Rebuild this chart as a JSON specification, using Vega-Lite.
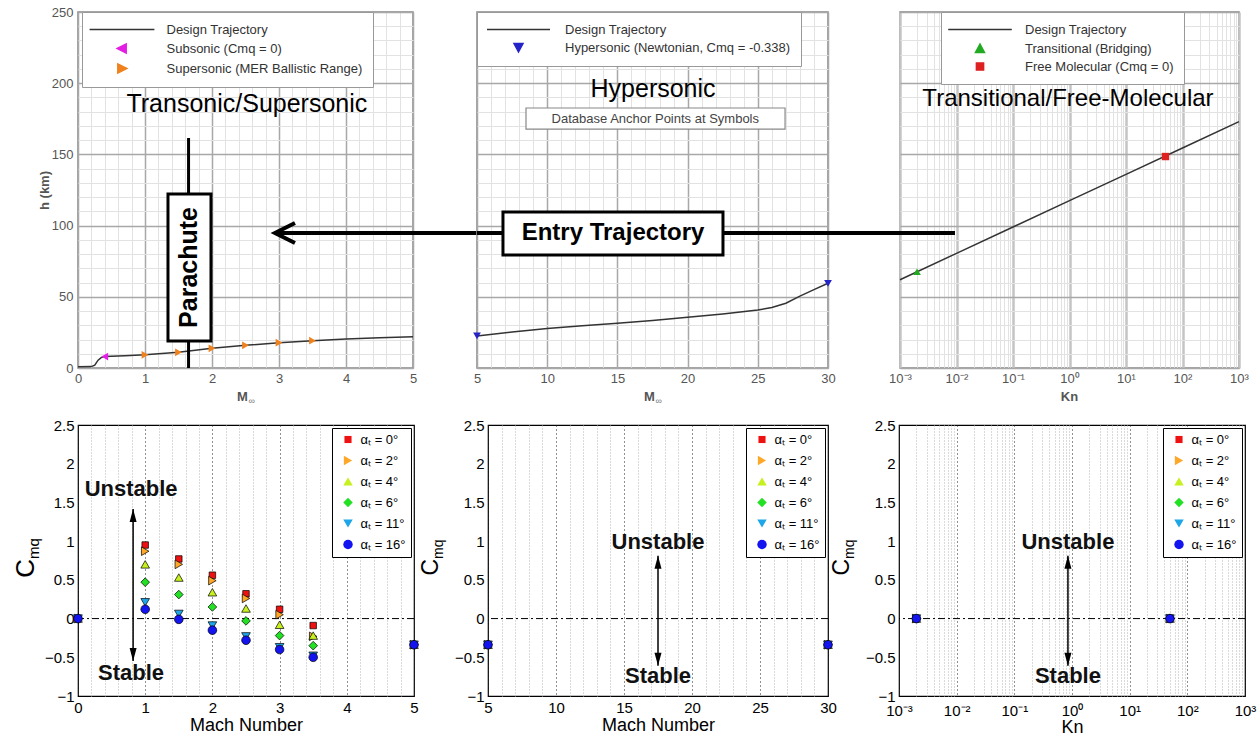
{
"$schema": "https://vega.github.io/schema/vega-lite/v6.json",
"padding": {"left": 12, "top": 5, "right": 5, "bottom": 5},
"background": "white",
"config": {
  "font": "Liberation Sans",
  "view": {"stroke": null},
  "axis": {"labelFont": "Liberation Sans", "titleFont": "Liberation Sans", "domain": false, "ticks": false, "labelOverlap": false, "labelFlush": false, "tickCount": 1000}
},
"datasets": {
  "traj1": [{"M":0,"h":0.8},{"M":0.2,"h":1},{"M":0.25,"h":2},{"M":0.3,"h":5.5},{"M":0.35,"h":7.5},{"M":0.4,"h":8},{"M":0.7,"h":8.6},{"M":1,"h":9.3},{"M":1.5,"h":11},{"M":2,"h":13.8},{"M":2.5,"h":15.9},{"M":3,"h":17.8},{"M":3.5,"h":19.2},{"M":4,"h":20.4},{"M":4.5,"h":21.3},{"M":5,"h":22}],
  "mk1": [{"M":0.4,"h":8,"series":"Subsonic (Cmq = 0)"},{"M":1,"h":9.3,"series":"Supersonic (MER Ballistic Range)"},{"M":1.5,"h":11,"series":"Supersonic (MER Ballistic Range)"},{"M":2,"h":13.8,"series":"Supersonic (MER Ballistic Range)"},{"M":2.5,"h":15.9,"series":"Supersonic (MER Ballistic Range)"},{"M":3,"h":17.8,"series":"Supersonic (MER Ballistic Range)"},{"M":3.5,"h":19.2,"series":"Supersonic (MER Ballistic Range)"}],
  "traj2": [{"M":5,"h":22.5},{"M":7.5,"h":25.3},{"M":10,"h":27.8},{"M":12.5,"h":29.7},{"M":15,"h":31.4},{"M":17.5,"h":33.4},{"M":20,"h":35.6},{"M":22.5,"h":37.9},{"M":25,"h":40.7},{"M":26,"h":42.5},{"M":27,"h":45.5},{"M":28,"h":50.5},{"M":29,"h":55},{"M":30,"h":59.5}],
  "mk2": [{"M":5,"h":22.5,"series":"Hypersonic (Newtonian, Cmq = -0.338)"},{"M":30,"h":59.5,"series":"Hypersonic (Newtonian, Cmq = -0.338)"}],
  "traj3": [{"Kn":0.001,"h":62},{"Kn":0.01,"h":80.5},{"Kn":0.1,"h":99},{"Kn":1,"h":117.5},{"Kn":10,"h":136},{"Kn":100,"h":154.5},{"Kn":1000,"h":173}],
  "mk3": [{"Kn":0.002,"h":67.6,"series":"Transitional (Bridging)"},{"Kn":50,"h":148.5,"series":"Free Molecular (Cmq = 0)"}],
  "cmq4": [
    {"M":0,"cmq":0,"alpha":"αₜ = 0°"},{"M":0,"cmq":0,"alpha":"αₜ = 2°"},{"M":0,"cmq":0,"alpha":"αₜ = 4°"},{"M":0,"cmq":0,"alpha":"αₜ = 6°"},{"M":0,"cmq":0,"alpha":"αₜ = 11°"},{"M":0,"cmq":0,"alpha":"αₜ = 16°"},
    {"M":1,"cmq":0.95,"alpha":"αₜ = 0°"},{"M":1,"cmq":0.87,"alpha":"αₜ = 2°"},{"M":1,"cmq":0.7,"alpha":"αₜ = 4°"},{"M":1,"cmq":0.47,"alpha":"αₜ = 6°"},{"M":1,"cmq":0.21,"alpha":"αₜ = 11°"},{"M":1,"cmq":0.12,"alpha":"αₜ = 16°"},
    {"M":1.5,"cmq":0.77,"alpha":"αₜ = 0°"},{"M":1.5,"cmq":0.7,"alpha":"αₜ = 2°"},{"M":1.5,"cmq":0.53,"alpha":"αₜ = 4°"},{"M":1.5,"cmq":0.31,"alpha":"αₜ = 6°"},{"M":1.5,"cmq":0.06,"alpha":"αₜ = 11°"},{"M":1.5,"cmq":-0.01,"alpha":"αₜ = 16°"},
    {"M":2,"cmq":0.56,"alpha":"αₜ = 0°"},{"M":2,"cmq":0.49,"alpha":"αₜ = 2°"},{"M":2,"cmq":0.34,"alpha":"αₜ = 4°"},{"M":2,"cmq":0.15,"alpha":"αₜ = 6°"},{"M":2,"cmq":-0.09,"alpha":"αₜ = 11°"},{"M":2,"cmq":-0.15,"alpha":"αₜ = 16°"},
    {"M":2.5,"cmq":0.32,"alpha":"αₜ = 0°"},{"M":2.5,"cmq":0.26,"alpha":"αₜ = 2°"},{"M":2.5,"cmq":0.13,"alpha":"αₜ = 4°"},{"M":2.5,"cmq":-0.03,"alpha":"αₜ = 6°"},{"M":2.5,"cmq":-0.23,"alpha":"αₜ = 11°"},{"M":2.5,"cmq":-0.28,"alpha":"αₜ = 16°"},
    {"M":3,"cmq":0.12,"alpha":"αₜ = 0°"},{"M":3,"cmq":0.05,"alpha":"αₜ = 2°"},{"M":3,"cmq":-0.08,"alpha":"αₜ = 4°"},{"M":3,"cmq":-0.22,"alpha":"αₜ = 6°"},{"M":3,"cmq":-0.37,"alpha":"αₜ = 11°"},{"M":3,"cmq":-0.4,"alpha":"αₜ = 16°"},
    {"M":3.5,"cmq":-0.09,"alpha":"αₜ = 0°"},{"M":3.5,"cmq":-0.23,"alpha":"αₜ = 2°"},{"M":3.5,"cmq":-0.22,"alpha":"αₜ = 4°"},{"M":3.5,"cmq":-0.35,"alpha":"αₜ = 6°"},{"M":3.5,"cmq":-0.48,"alpha":"αₜ = 11°"},{"M":3.5,"cmq":-0.5,"alpha":"αₜ = 16°"},
    {"M":5,"cmq":-0.338,"alpha":"αₜ = 0°"},{"M":5,"cmq":-0.338,"alpha":"αₜ = 2°"},{"M":5,"cmq":-0.338,"alpha":"αₜ = 4°"},{"M":5,"cmq":-0.338,"alpha":"αₜ = 6°"},{"M":5,"cmq":-0.338,"alpha":"αₜ = 11°"},{"M":5,"cmq":-0.338,"alpha":"αₜ = 16°"}
  ],
  "cmq5": [
    {"M":5,"cmq":-0.338,"alpha":"αₜ = 0°"},{"M":5,"cmq":-0.338,"alpha":"αₜ = 2°"},{"M":5,"cmq":-0.338,"alpha":"αₜ = 4°"},{"M":5,"cmq":-0.338,"alpha":"αₜ = 6°"},{"M":5,"cmq":-0.338,"alpha":"αₜ = 11°"},{"M":5,"cmq":-0.338,"alpha":"αₜ = 16°"},
    {"M":30,"cmq":-0.338,"alpha":"αₜ = 0°"},{"M":30,"cmq":-0.338,"alpha":"αₜ = 2°"},{"M":30,"cmq":-0.338,"alpha":"αₜ = 4°"},{"M":30,"cmq":-0.338,"alpha":"αₜ = 6°"},{"M":30,"cmq":-0.338,"alpha":"αₜ = 11°"},{"M":30,"cmq":-0.338,"alpha":"αₜ = 16°"}
  ],
  "cmq6": [
    {"Kn":0.002,"cmq":0,"alpha":"αₜ = 0°"},{"Kn":0.002,"cmq":0,"alpha":"αₜ = 2°"},{"Kn":0.002,"cmq":0,"alpha":"αₜ = 4°"},{"Kn":0.002,"cmq":0,"alpha":"αₜ = 6°"},{"Kn":0.002,"cmq":0,"alpha":"αₜ = 11°"},{"Kn":0.002,"cmq":0,"alpha":"αₜ = 16°"},
    {"Kn":50,"cmq":0,"alpha":"αₜ = 0°"},{"Kn":50,"cmq":0,"alpha":"αₜ = 2°"},{"Kn":50,"cmq":0,"alpha":"αₜ = 4°"},{"Kn":50,"cmq":0,"alpha":"αₜ = 6°"},{"Kn":50,"cmq":0,"alpha":"αₜ = 11°"},{"Kn":50,"cmq":0,"alpha":"αₜ = 16°"}
  ]
},
"spacing": 10,
"resolve": {"scale": {"x": "independent", "y": "independent", "color": "independent", "shape": "independent"}, "axis": {"x": "independent", "y": "independent"}, "legend": {"color": "independent", "shape": "independent"}},
"vconcat": [
{
  "spacing": 64,
  "bounds": "flush",
  "resolve": {"scale": {"x": "independent", "y": "independent", "color": "independent", "shape": "independent"}, "axis": {"x": "independent", "y": "independent"}, "legend": {"color": "independent", "shape": "independent"}},
  "hconcat": [
  {
    "width": 335, "height": 356,
    "view": {"stroke": "#888", "strokeWidth": 1.5},
    "layer": [
      {"data": {"name": "traj1"}, "mark": {"type": "line", "color": "#333", "strokeWidth": 1.5},
       "encoding": {
        "x": {"field": "M", "type": "quantitative", "scale": {"domain": [0, 5], "nice": false, "zero": false},
              "axis": {"values": [0,0.2,0.4,0.6,0.8,1,1.2,1.4,1.6,1.8,2,2.2,2.4,2.6,2.8,3,3.2,3.4,3.6,3.8,4,4.2,4.4,4.6,4.8,5], "tickCount": 1000, "format": "~g",
                       "labelExpr": "abs(datum.value - round(datum.value)) < 0.001 ? datum.label : ''", "title": null,
                       "labelColor": "#555", "labelFontSize": 13, "labelPadding": 4,
                       "gridColor": {"condition": {"test": "abs(datum.value - round(datum.value)) < 0.001", "value": "#a8a8a8"}, "value": "#e2e2e2"},
                       "gridWidth": {"condition": {"test": "abs(datum.value - round(datum.value)) < 0.001", "value": 1.5}, "value": 1}}},
        "y": {"field": "h", "type": "quantitative", "scale": {"domain": [0, 250], "nice": false, "zero": false},
              "axis": {"values": [0,10,20,30,40,50,60,70,80,90,100,110,120,130,140,150,160,170,180,190,200,210,220,230,240,250], "tickCount": 1000, "format": "d",
                       "labelExpr": "datum.value % 50 === 0 ? datum.label : ''", "title": "h (km)", "titleColor": "#555", "titleFontSize": 13, "titleFontWeight": "bold", "titlePadding": 0,
                       "labelColor": "#555", "labelFontSize": 13, "labelPadding": 5,
                       "gridColor": {"condition": {"test": "datum.value % 50 === 0", "value": "#a8a8a8"}, "value": "#e2e2e2"},
                       "gridWidth": {"condition": {"test": "datum.value % 50 === 0", "value": 1.5}, "value": 1}}}
       }},
      {"data": {"name": "mk1"}, "transform": [{"filter": "datum.series === 'Subsonic (Cmq = 0)'"}],
       "mark": {"type": "point", "filled": true, "opacity": 1, "size": 60, "shape": "triangle-left"},
       "encoding": {
        "x": {"field": "M", "type": "quantitative"},
        "y": {"field": "h", "type": "quantitative"},
        "color": {"field": "series", "type": "nominal",
                  "scale": {"domain": ["Design Trajectory", "Subsonic (Cmq = 0)", "Supersonic (MER Ballistic Range)"], "range": ["#333333", "#e41ee4", "#f0821e"]},
                  "legend": {"title": null, "orient": "none", "legendX": 4, "legendY": 0, "fillColor": "white", "strokeColor": "#999", "padding": 10.5, "rowPadding": 4,
                             "symbolSize": 144, "symbolStrokeWidth": 1.5, "symbolOffset": 22.5, "labelOffset": 37.5, "labelFontSize": 13, "labelColor": "#333", "labelFont": "Liberation Sans", "labelLimit": 400, "symbolOpacity": 1,
                             "encode": {"symbols": {"update": {
                               "shape": [{"test": "datum.value === 'Design Trajectory'", "value": "M-5.4,0H5.4"}, {"test": "datum.value === 'Subsonic (Cmq = 0)'", "value": "M-0.8,0L0.7,-0.75L0.7,0.75Z"}, {"value": "M0.8,0L-0.7,-0.75L-0.7,0.75Z"}],
                               "fill": [{"test": "datum.value === 'Design Trajectory'", "value": "transparent"}, {"test": "datum.value === 'Subsonic (Cmq = 0)'", "value": "#e41ee4"}, {"value": "#f0821e"}],
                               "stroke": [{"test": "datum.value === 'Design Trajectory'", "value": "#333"}, {"test": "datum.value === 'Subsonic (Cmq = 0)'", "value": "#e41ee4"}, {"value": "#f0821e"}]
                             }}}}}
       }},
      {"data": {"name": "mk1"}, "transform": [{"filter": "datum.series !== 'Subsonic (Cmq = 0)'"}],
       "mark": {"type": "point", "filled": true, "opacity": 1, "size": 60, "shape": "triangle-right"},
       "encoding": {
        "x": {"field": "M", "type": "quantitative"},
        "y": {"field": "h", "type": "quantitative"},
        "color": {"field": "series", "type": "nominal",
                  "legend": {"title": null, "orient": "none", "legendX": 4, "legendY": 0, "fillColor": "white", "strokeColor": "#999", "padding": 10.5, "rowPadding": 4,
                             "symbolSize": 144, "symbolStrokeWidth": 1.5, "symbolOffset": 22.5, "labelOffset": 37.5, "labelFontSize": 13, "labelColor": "#333", "labelFont": "Liberation Sans", "labelLimit": 400, "symbolOpacity": 1,
                             "encode": {"symbols": {"update": {
                               "shape": [{"test": "datum.value === 'Design Trajectory'", "value": "M-5.4,0H5.4"}, {"test": "datum.value === 'Subsonic (Cmq = 0)'", "value": "M-0.8,0L0.7,-0.75L0.7,0.75Z"}, {"value": "M0.8,0L-0.7,-0.75L-0.7,0.75Z"}],
                               "fill": [{"test": "datum.value === 'Design Trajectory'", "value": "transparent"}, {"test": "datum.value === 'Subsonic (Cmq = 0)'", "value": "#e41ee4"}, {"value": "#f0821e"}],
                               "stroke": [{"test": "datum.value === 'Design Trajectory'", "value": "#333"}, {"test": "datum.value === 'Subsonic (Cmq = 0)'", "value": "#e41ee4"}, {"value": "#f0821e"}]
                             }}}}}
       }},
      {"data": {"values": [{"M": 1.65, "h1": 0, "h2": 161.5}]}, "mark": {"type": "rule", "color": "black", "strokeWidth": 3},
       "encoding": {"x": {"field": "M", "type": "quantitative"}, "y": {"field": "h1", "type": "quantitative"}, "y2": {"field": "h2"}}},
      {"data": {"values": [{"M1": 1.343, "M2": 1.985, "h1": 19, "h2": 122.2}]}, "mark": {"type": "rect", "fill": "white", "stroke": "black", "strokeWidth": 3},
       "encoding": {"x": {"field": "M1", "type": "quantitative"}, "x2": {"field": "M2"}, "y": {"field": "h1", "type": "quantitative"}, "y2": {"field": "h2"}}},
      {"data": {"values": [{"M": 1.664, "h": 70.6, "label": "Parachute"}]}, "mark": {"type": "text", "angle": 270, "fontSize": 25, "fontWeight": "bold", "align": "center", "baseline": "middle", "color": "black"},
       "encoding": {"x": {"field": "M", "type": "quantitative"}, "y": {"field": "h", "type": "quantitative"}, "text": {"field": "label"}}},
      {"data": {"values": [{"M": 2.52, "h": 185.4, "label": "Transonic/Supersonic"}]}, "mark": {"type": "text", "fontSize": 25, "align": "center", "baseline": "middle", "color": "black"},
       "encoding": {"x": {"field": "M", "type": "quantitative"}, "y": {"field": "h", "type": "quantitative"}, "text": {"field": "label"}}},
      {"data": {"values": [{"M1": 2.94, "M2": 5.96, "h": 94.8}]}, "mark": {"type": "rule", "color": "black", "strokeWidth": 4},
       "encoding": {"x": {"field": "M1", "type": "quantitative"}, "x2": {"field": "M2"}, "y": {"field": "h", "type": "quantitative"}}},
      {"data": {"values": [{"M": 2.94, "h": 94.8}]}, "mark": {"type": "point", "shape": "M2,-1L0,0L2,1", "size": 400, "filled": false, "stroke": "black", "strokeWidth": 4, "opacity": 1},
       "encoding": {"x": {"field": "M", "type": "quantitative"}, "y": {"field": "h", "type": "quantitative"}}},
      {"data": {"values": [{"M": 2.5, "h": -20.4, "label": "M"}]}, "mark": {"type": "text", "fontSize": 13, "fontWeight": "bold", "align": "center", "baseline": "middle", "color": "#555", "dx": -3},
       "encoding": {"x": {"field": "M", "type": "quantitative"}, "y": {"field": "h", "type": "quantitative"}, "text": {"field": "label"}}},
      {"data": {"values": [{"M": 2.5, "h": -20.4, "label": "∞"}]}, "mark": {"type": "text", "fontSize": 9, "align": "left", "baseline": "middle", "color": "#777", "dx": 3, "dy": 4},
       "encoding": {"x": {"field": "M", "type": "quantitative"}, "y": {"field": "h", "type": "quantitative"}, "text": {"field": "label"}}}
    ]
  },
  {
    "spacing": 72,
    "bounds": "flush",
    "resolve": {"scale": {"x": "independent", "y": "independent", "color": "independent", "shape": "independent"}, "axis": {"x": "independent", "y": "independent"}, "legend": {"color": "independent", "shape": "independent"}},
    "hconcat": [
    {
      "width": 351, "height": 356,
      "view": {"stroke": "#888", "strokeWidth": 1.5},
      "layer": [
        {"data": {"name": "traj2"}, "mark": {"type": "line", "color": "#333", "strokeWidth": 1.5},
         "encoding": {
          "x": {"field": "M", "type": "quantitative", "scale": {"domain": [5, 30], "nice": false, "zero": false},
                "axis": {"values": [5,6,7,8,9,10,11,12,13,14,15,16,17,18,19,20,21,22,23,24,25,26,27,28,29,30], "tickCount": 1000, "format": "~g",
                         "labelExpr": "datum.value % 5 === 0 ? datum.label : ''", "title": null,
                         "labelColor": "#555", "labelFontSize": 13, "labelPadding": 4,
                         "gridColor": {"condition": {"test": "datum.value % 5 === 0", "value": "#a8a8a8"}, "value": "#e2e2e2"},
                         "gridWidth": {"condition": {"test": "datum.value % 5 === 0", "value": 1.5}, "value": 1}}},
          "y": {"field": "h", "type": "quantitative", "scale": {"domain": [0, 250], "nice": false, "zero": false},
                "axis": {"values": [0,10,20,30,40,50,60,70,80,90,100,110,120,130,140,150,160,170,180,190,200,210,220,230,240,250], "tickCount": 1000,
                         "labels": false, "title": null,
                         "gridColor": {"condition": {"test": "datum.value % 50 === 0", "value": "#a8a8a8"}, "value": "#e2e2e2"},
                         "gridWidth": {"condition": {"test": "datum.value % 50 === 0", "value": 1.5}, "value": 1}}}
         }},
        {"data": {"name": "mk2"}, "mark": {"type": "point", "filled": true, "opacity": 1, "size": 60, "shape": "triangle-down"},
         "encoding": {
          "x": {"field": "M", "type": "quantitative"},
          "y": {"field": "h", "type": "quantitative"},
          "color": {"field": "series", "type": "nominal",
                    "scale": {"domain": ["Design Trajectory", "Hypersonic (Newtonian, Cmq = -0.338)"], "range": ["#333333", "#2323c8"]},
                    "legend": {"title": null, "orient": "none", "legendX": 0, "legendY": 0, "fillColor": "white", "strokeColor": "#999", "padding": 10.5, "rowPadding": 4,
                               "symbolSize": 144, "symbolStrokeWidth": 1.5, "symbolOffset": 24, "labelOffset": 39.5, "labelFontSize": 13, "labelColor": "#333", "labelFont": "Liberation Sans", "labelLimit": 400, "symbolOpacity": 1,
                               "encode": {"symbols": {"update": {
                                 "shape": [{"test": "datum.value === 'Design Trajectory'", "value": "M-5.25,0H5.25"}, {"value": "M0,0.75L0.75,-0.65L-0.75,-0.65Z"}],
                                 "fill": [{"test": "datum.value === 'Design Trajectory'", "value": "transparent"}, {"value": "#2323c8"}],
                                 "stroke": [{"test": "datum.value === 'Design Trajectory'", "value": "#333"}, {"value": "#2323c8"}]
                               }}}}}
         }},
        {"data": {"values": [{"M1": 5, "M2": 30, "h": 94.8}]}, "mark": {"type": "rule", "color": "black", "strokeWidth": 4},
         "encoding": {"x": {"field": "M1", "type": "quantitative"}, "x2": {"field": "M2"}, "y": {"field": "h", "type": "quantitative"}}},
        {"data": {"values": [{"M1": 6.85, "M2": 22.52, "h1": 79.4, "h2": 109.6}]}, "mark": {"type": "rect", "fill": "white", "stroke": "black", "strokeWidth": 3},
         "encoding": {"x": {"field": "M1", "type": "quantitative"}, "x2": {"field": "M2"}, "y": {"field": "h1", "type": "quantitative"}, "y2": {"field": "h2"}}},
        {"data": {"values": [{"M": 14.69, "h": 94.5, "label": "Entry Trajectory"}]}, "mark": {"type": "text", "fontSize": 24, "fontWeight": "bold", "align": "center", "baseline": "middle", "color": "black"},
         "encoding": {"x": {"field": "M", "type": "quantitative"}, "y": {"field": "h", "type": "quantitative"}, "text": {"field": "label"}}},
        {"data": {"values": [{"M": 17.54, "h": 195.9, "label": "Hypersonic"}]}, "mark": {"type": "text", "fontSize": 25, "align": "center", "baseline": "middle", "color": "black"},
         "encoding": {"x": {"field": "M", "type": "quantitative"}, "y": {"field": "h", "type": "quantitative"}, "text": {"field": "label"}}},
        {"data": {"values": [{"M1": 8.49, "M2": 26.94, "h1": 167.8, "h2": 182.6}]}, "mark": {"type": "rect", "fill": "white", "stroke": "#888", "strokeWidth": 1.2},
         "encoding": {"x": {"field": "M1", "type": "quantitative"}, "x2": {"field": "M2"}, "y": {"field": "h1", "type": "quantitative"}, "y2": {"field": "h2"}}},
        {"data": {"values": [{"M": 17.7, "h": 175.2, "label": "Database Anchor Points at Symbols"}]}, "mark": {"type": "text", "fontSize": 13, "align": "center", "baseline": "middle", "color": "#444"},
         "encoding": {"x": {"field": "M", "type": "quantitative"}, "y": {"field": "h", "type": "quantitative"}, "text": {"field": "label"}}},
        {"data": {"values": [{"M": 17.5, "h": -20.4, "label": "M"}]}, "mark": {"type": "text", "fontSize": 13, "fontWeight": "bold", "align": "center", "baseline": "middle", "color": "#555", "dx": -3},
         "encoding": {"x": {"field": "M", "type": "quantitative"}, "y": {"field": "h", "type": "quantitative"}, "text": {"field": "label"}}},
        {"data": {"values": [{"M": 17.5, "h": -20.4, "label": "∞"}]}, "mark": {"type": "text", "fontSize": 9, "align": "left", "baseline": "middle", "color": "#777", "dx": 3, "dy": 4},
         "encoding": {"x": {"field": "M", "type": "quantitative"}, "y": {"field": "h", "type": "quantitative"}, "text": {"field": "label"}}}
      ]
    },
    {
      "width": 339, "height": 356,
      "view": {"stroke": "#888", "strokeWidth": 1.5},
      "layer": [
        {"data": {"name": "traj3"}, "mark": {"type": "line", "color": "#333", "strokeWidth": 1.5},
         "encoding": {
          "x": {"field": "Kn", "type": "quantitative", "scale": {"type": "log", "domain": [0.001, 1000], "nice": false},
                "axis": {"values": [0.001,0.002,0.003,0.004,0.005,0.006,0.007,0.008,0.009,0.01,0.02,0.03,0.04,0.05,0.06,0.07,0.08,0.09,0.1,0.2,0.3,0.4,0.5,0.6,0.7,0.8,0.9,1,2,3,4,5,6,7,8,9,10,20,30,40,50,60,70,80,90,100,200,300,400,500,600,700,800,900,1000], "tickCount": 1000,
                         "labelExpr": "abs(log(datum.value)/LN10 - round(log(datum.value)/LN10)) < 0.001 ? '10' + ['⁻³','⁻²','⁻¹','⁰','¹','²','³'][round(log(datum.value)/LN10) + 3] : ''",
                         "title": null, "labelColor": "#555", "labelFontSize": 13, "labelPadding": 4,
                         "gridColor": {"condition": {"test": "abs(log(datum.value)/LN10 - round(log(datum.value)/LN10)) < 0.001", "value": "#c4c4c4"}, "value": "#e2e2e2"},
                         "gridWidth": {"condition": {"test": "abs(log(datum.value)/LN10 - round(log(datum.value)/LN10)) < 0.001", "value": 2.5}, "value": 1}}},
          "y": {"field": "h", "type": "quantitative", "scale": {"domain": [0, 250], "nice": false, "zero": false},
                "axis": {"values": [0,10,20,30,40,50,60,70,80,90,100,110,120,130,140,150,160,170,180,190,200,210,220,230,240,250], "tickCount": 1000,
                         "labels": false, "title": null,
                         "gridColor": {"condition": {"test": "datum.value % 50 === 0", "value": "#a8a8a8"}, "value": "#e2e2e2"},
                         "gridWidth": {"condition": {"test": "datum.value % 50 === 0", "value": 1.5}, "value": 1}}}
         }},
        {"data": {"name": "mk3"}, "transform": [{"filter": "datum.series === 'Transitional (Bridging)'"}],
         "mark": {"type": "point", "filled": true, "opacity": 1, "size": 60, "shape": "triangle-up"},
         "encoding": {
          "x": {"field": "Kn", "type": "quantitative"},
          "y": {"field": "h", "type": "quantitative"},
          "color": {"field": "series", "type": "nominal",
                    "scale": {"domain": ["Design Trajectory", "Transitional (Bridging)", "Free Molecular (Cmq = 0)"], "range": ["#333333", "#22aa22", "#dd2020"]},
                    "legend": {"title": null, "orient": "none", "legendX": 41, "legendY": 0, "fillColor": "white", "strokeColor": "#999", "padding": 10.5, "rowPadding": 4,
                               "symbolSize": 144, "symbolStrokeWidth": 1.5, "symbolOffset": 21.5, "labelOffset": 38, "labelFontSize": 13, "labelColor": "#333", "labelFont": "Liberation Sans", "labelLimit": 400, "symbolOpacity": 1,
                               "encode": {"symbols": {"update": {
                                 "shape": [{"test": "datum.value === 'Design Trajectory'", "value": "M-5.3,0H5.3"}, {"test": "datum.value === 'Transitional (Bridging)'", "value": "M0,-0.75L0.75,0.65L-0.75,0.65Z"}, {"value": "M-0.6,-0.6H0.6V0.6H-0.6Z"}],
                                 "fill": [{"test": "datum.value === 'Design Trajectory'", "value": "transparent"}, {"test": "datum.value === 'Transitional (Bridging)'", "value": "#22aa22"}, {"value": "#dd2020"}],
                                 "stroke": [{"test": "datum.value === 'Design Trajectory'", "value": "#333"}, {"test": "datum.value === 'Transitional (Bridging)'", "value": "#22aa22"}, {"value": "#dd2020"}]
                               }}}}}
         }},
        {"data": {"name": "mk3"}, "transform": [{"filter": "datum.series !== 'Transitional (Bridging)'"}],
         "mark": {"type": "point", "filled": true, "opacity": 1, "size": 55, "shape": "square"},
         "encoding": {
          "x": {"field": "Kn", "type": "quantitative"},
          "y": {"field": "h", "type": "quantitative"},
          "color": {"field": "series", "type": "nominal",
                    "legend": {"title": null, "orient": "none", "legendX": 41, "legendY": 0, "fillColor": "white", "strokeColor": "#999", "padding": 10.5, "rowPadding": 4,
                               "symbolSize": 144, "symbolStrokeWidth": 1.5, "symbolOffset": 21.5, "labelOffset": 38, "labelFontSize": 13, "labelColor": "#333", "labelFont": "Liberation Sans", "labelLimit": 400, "symbolOpacity": 1,
                               "encode": {"symbols": {"update": {
                                 "shape": [{"test": "datum.value === 'Design Trajectory'", "value": "M-5.3,0H5.3"}, {"test": "datum.value === 'Transitional (Bridging)'", "value": "M0,-0.75L0.75,0.65L-0.75,0.65Z"}, {"value": "M-0.6,-0.6H0.6V0.6H-0.6Z"}],
                                 "fill": [{"test": "datum.value === 'Design Trajectory'", "value": "transparent"}, {"test": "datum.value === 'Transitional (Bridging)'", "value": "#22aa22"}, {"value": "#dd2020"}],
                                 "stroke": [{"test": "datum.value === 'Design Trajectory'", "value": "#333"}, {"test": "datum.value === 'Transitional (Bridging)'", "value": "#22aa22"}, {"value": "#dd2020"}]
                               }}}}}
         }},
        {"data": {"values": [{"K1": 0.000053, "K2": 0.0094, "h": 94.8}]}, "mark": {"type": "rule", "color": "black", "strokeWidth": 4},
         "encoding": {"x": {"field": "K1", "type": "quantitative"}, "x2": {"field": "K2"}, "y": {"field": "h", "type": "quantitative"}}},
        {"data": {"values": [{"Kn": 0.94, "h": 188.9, "label": "Transitional/Free-Molecular"}]}, "mark": {"type": "text", "fontSize": 24, "align": "center", "baseline": "middle", "color": "black"},
         "encoding": {"x": {"field": "Kn", "type": "quantitative"}, "y": {"field": "h", "type": "quantitative"}, "text": {"field": "label"}}},
        {"data": {"values": [{"Kn": 1, "h": -20.4, "label": "Kn"}]}, "mark": {"type": "text", "fontSize": 13, "fontWeight": "bold", "align": "center", "baseline": "middle", "color": "#555"},
         "encoding": {"x": {"field": "Kn", "type": "quantitative"}, "y": {"field": "h", "type": "quantitative"}, "text": {"field": "label"}}}
      ]
    }
    ]
  }
  ]
},
{
  "spacing": 74,
  "bounds": "flush",
  "resolve": {"scale": {"x": "independent", "y": "independent", "color": "independent", "shape": "independent"}, "axis": {"x": "independent", "y": "independent"}, "legend": {"color": "independent", "shape": "independent"}},
  "hconcat": [
  {
    "width": 336, "height": 271,
    "view": {"stroke": "black", "strokeWidth": 1.2},
    "layer": [
      {"data": {"values": [{}]}, "mark": {"type": "rule", "color": "black", "strokeWidth": 1, "strokeDash": [7, 3, 2, 3]},
       "encoding": {"y": {"datum": 0, "type": "quantitative"}}},
      {"data": {"name": "cmq4"}, "mark": {"type": "point", "filled": true, "opacity": 1, "size": 75, "stroke": "black", "strokeWidth": 0.7},
       "encoding": {
        "x": {"field": "M", "type": "quantitative", "scale": {"domain": [0, 5], "nice": false, "zero": false},
              "axis": {"values": [0,0.2,0.4,0.6,0.8,1,1.2,1.4,1.6,1.8,2,2.2,2.4,2.6,2.8,3,3.2,3.4,3.6,3.8,4,4.2,4.4,4.6,4.8,5], "tickCount": 1000, "format": "~g",
                       "labelExpr": "abs(datum.value - round(datum.value)) < 0.001 ? datum.label : ''",
                       "title": "Mach Number", "titleFontSize": 18, "titleFontWeight": "normal", "titleColor": "black", "titlePadding": 1,
                       "labelColor": "black", "labelFontSize": 15, "labelPadding": 4, "gridWidth": 1,
                       "gridColor": {"condition": {"test": "abs(datum.value - round(datum.value)) < 0.001", "value": "#222"}, "value": "#b4b4b4"},
                       "gridDash": {"condition": {"test": "abs(datum.value - round(datum.value)) < 0.001", "value": [1, 3]}, "value": [1, 2]}}},
        "y": {"field": "cmq", "type": "quantitative", "scale": {"domain": [-1, 2.5], "nice": false, "zero": false},
              "axis": {"values": [-1,-0.9,-0.8,-0.7,-0.6,-0.5,-0.4,-0.3,-0.2,-0.1,0,0.1,0.2,0.3,0.4,0.5,0.6,0.7,0.8,0.9,1,1.1,1.2,1.3,1.4,1.5,1.6,1.7,1.8,1.9,2,2.1,2.2,2.3,2.4,2.5], "tickCount": 1000, "format": "~g",
                       "labelExpr": "abs(datum.value*2 - round(datum.value*2)) < 0.001 ? datum.label : ''", "title": null,
                       "labelColor": "black", "labelFontSize": 15, "labelPadding": 4, "gridWidth": 1,
                       "gridColor": {"condition": {"test": "abs(datum.value*2 - round(datum.value*2)) < 0.001", "value": "#222"}, "value": "#b4b4b4"},
                       "gridDash": {"condition": {"test": "abs(datum.value*2 - round(datum.value*2)) < 0.001", "value": [1, 3]}, "value": [1, 2]}}},
        "color": {"field": "alpha", "type": "nominal",
                  "scale": {"domain": ["αₜ = 0°", "αₜ = 2°", "αₜ = 4°", "αₜ = 6°", "αₜ = 11°", "αₜ = 16°"], "range": ["#ee1111", "#ffa726", "#c6f01e", "#22e022", "#1ea6e8", "#1414f0"]},
                  "legend": {"title": null, "orient": "top-right", "offset": 3, "fillColor": "white", "strokeColor": "black", "padding": 5, "rowPadding": 7, "symbolSize": 90, "symbolStrokeColor": "black", "symbolStrokeWidth": 0.8, "symbolOffset": 4.5, "labelOffset": 6, "labelFontSize": 13, "labelFont": "Liberation Sans", "labelColor": "black", "symbolOpacity": 1}},
        "shape": {"field": "alpha", "type": "nominal",
                  "scale": {"domain": ["αₜ = 0°", "αₜ = 2°", "αₜ = 4°", "αₜ = 6°", "αₜ = 11°", "αₜ = 16°"], "range": ["M-0.75,-0.75H0.75V0.75H-0.75Z", "triangle-right", "triangle-up", "diamond", "triangle-down", "circle"]},
                  "legend": {"title": null, "orient": "top-right", "offset": 3, "fillColor": "white", "strokeColor": "black", "padding": 5, "rowPadding": 7, "symbolSize": 90, "symbolStrokeColor": "black", "symbolStrokeWidth": 0.8, "symbolOffset": 4.5, "labelOffset": 6, "labelFontSize": 13, "labelFont": "Liberation Sans", "labelColor": "black", "symbolOpacity": 1}}
       }},
      {"data": {"values": [{"M": 0.82, "top": 1.415, "bottom": -0.548}]}, "mark": {"type": "rule", "color": "black", "strokeWidth": 1.5},
       "encoding": {"x": {"field": "M", "type": "quantitative"}, "y": {"field": "top", "type": "quantitative"}, "y2": {"field": "bottom"}}},
      {"data": {"values": [{"M": 0.82, "top": 1.415}]}, "mark": {"type": "point", "shape": "M0,0L-0.7,2.6L0.7,2.6Z", "size": 100, "filled": true, "color": "black", "opacity": 1},
       "encoding": {"x": {"field": "M", "type": "quantitative"}, "y": {"field": "top", "type": "quantitative"}}},
      {"data": {"values": [{"M": 0.82, "bottom": -0.548}]}, "mark": {"type": "point", "shape": "M0,0L-0.7,-2.6L0.7,-2.6Z", "size": 100, "filled": true, "color": "black", "opacity": 1},
       "encoding": {"x": {"field": "M", "type": "quantitative"}, "y": {"field": "bottom", "type": "quantitative"}}},
      {"data": {"values": [{"M": 0.79, "cmq": 1.67, "label": "Unstable"}, {"M": 0.79, "cmq": -0.7, "label": "Stable"}]}, "mark": {"type": "text", "fontSize": 22, "fontWeight": "bold", "align": "center", "baseline": "middle", "color": "#111"},
       "encoding": {"x": {"field": "M", "type": "quantitative"}, "y": {"field": "cmq", "type": "quantitative"}, "text": {"field": "label"}}},
      {"data": {"values": [{"M": -0.774, "cmq": 0.77, "label": "C"}]}, "mark": {"type": "text", "angle": 270, "fontSize": 26, "align": "right", "baseline": "middle", "color": "black"},
       "encoding": {"x": {"field": "M", "type": "quantitative"}, "y": {"field": "cmq", "type": "quantitative"}, "text": {"field": "label"}}},
      {"data": {"values": [{"M": -0.774, "cmq": 0.77, "label": "mq"}]}, "mark": {"type": "text", "angle": 270, "fontSize": 15, "align": "left", "baseline": "middle", "color": "black", "dy": 8},
       "encoding": {"x": {"field": "M", "type": "quantitative"}, "y": {"field": "cmq", "type": "quantitative"}, "text": {"field": "label"}}}
    ]
  },
  {
    "spacing": 71,
    "bounds": "flush",
    "resolve": {"scale": {"x": "independent", "y": "independent", "color": "independent", "shape": "independent"}, "axis": {"x": "independent", "y": "independent"}, "legend": {"color": "independent", "shape": "independent"}},
    "hconcat": [
    {
      "width": 340, "height": 271,
      "view": {"stroke": "black", "strokeWidth": 1.2},
      "layer": [
        {"data": {"values": [{}]}, "mark": {"type": "rule", "color": "black", "strokeWidth": 1, "strokeDash": [7, 3, 2, 3]},
         "encoding": {"y": {"datum": 0, "type": "quantitative"}}},
        {"data": {"name": "cmq5"}, "mark": {"type": "point", "filled": true, "opacity": 1, "size": 75, "stroke": "black", "strokeWidth": 0.7},
         "encoding": {
          "x": {"field": "M", "type": "quantitative", "scale": {"domain": [5, 30], "nice": false, "zero": false},
                "axis": {"values": [5,6,7,8,9,10,11,12,13,14,15,16,17,18,19,20,21,22,23,24,25,26,27,28,29,30], "tickCount": 1000, "format": "~g",
                         "labelExpr": "datum.value % 5 === 0 ? datum.label : ''",
                         "title": "Mach Number", "titleFontSize": 18, "titleFontWeight": "normal", "titleColor": "black", "titlePadding": 1,
                         "labelColor": "black", "labelFontSize": 15, "labelPadding": 4, "gridWidth": 1,
                         "gridColor": {"condition": {"test": "datum.value % 5 === 0", "value": "#222"}, "value": "#b4b4b4"},
                         "gridDash": {"condition": {"test": "datum.value % 5 === 0", "value": [1, 3]}, "value": [1, 2]}}},
          "y": {"field": "cmq", "type": "quantitative", "scale": {"domain": [-1, 2.5], "nice": false, "zero": false},
                "axis": {"values": [-1,-0.9,-0.8,-0.7,-0.6,-0.5,-0.4,-0.3,-0.2,-0.1,0,0.1,0.2,0.3,0.4,0.5,0.6,0.7,0.8,0.9,1,1.1,1.2,1.3,1.4,1.5,1.6,1.7,1.8,1.9,2,2.1,2.2,2.3,2.4,2.5], "tickCount": 1000, "format": "~g",
                         "labelExpr": "abs(datum.value*2 - round(datum.value*2)) < 0.001 ? datum.label : ''", "title": null,
                         "labelColor": "black", "labelFontSize": 15, "labelPadding": 4, "gridWidth": 1,
                         "gridColor": {"condition": {"test": "abs(datum.value*2 - round(datum.value*2)) < 0.001", "value": "#222"}, "value": "#b4b4b4"},
                         "gridDash": {"condition": {"test": "abs(datum.value*2 - round(datum.value*2)) < 0.001", "value": [1, 3]}, "value": [1, 2]}}},
          "color": {"field": "alpha", "type": "nominal",
                    "scale": {"domain": ["αₜ = 0°", "αₜ = 2°", "αₜ = 4°", "αₜ = 6°", "αₜ = 11°", "αₜ = 16°"], "range": ["#ee1111", "#ffa726", "#c6f01e", "#22e022", "#1ea6e8", "#1414f0"]},
                    "legend": {"title": null, "orient": "top-right", "offset": 3, "fillColor": "white", "strokeColor": "black", "padding": 5, "rowPadding": 7, "symbolSize": 90, "symbolStrokeColor": "black", "symbolStrokeWidth": 0.8, "symbolOffset": 4.5, "labelOffset": 6, "labelFontSize": 13, "labelFont": "Liberation Sans", "labelColor": "black", "symbolOpacity": 1}},
          "shape": {"field": "alpha", "type": "nominal",
                    "scale": {"domain": ["αₜ = 0°", "αₜ = 2°", "αₜ = 4°", "αₜ = 6°", "αₜ = 11°", "αₜ = 16°"], "range": ["M-0.75,-0.75H0.75V0.75H-0.75Z", "triangle-right", "triangle-up", "diamond", "triangle-down", "circle"]},
                    "legend": {"title": null, "orient": "top-right", "offset": 3, "fillColor": "white", "strokeColor": "black", "padding": 5, "rowPadding": 7, "symbolSize": 90, "symbolStrokeColor": "black", "symbolStrokeWidth": 0.8, "symbolOffset": 4.5, "labelOffset": 6, "labelFontSize": 13, "labelFont": "Liberation Sans", "labelColor": "black", "symbolOpacity": 1}}
         }},
        {"data": {"values": [{"M": 17.5, "top": 0.81, "bottom": -0.61}]}, "mark": {"type": "rule", "color": "black", "strokeWidth": 1.5},
         "encoding": {"x": {"field": "M", "type": "quantitative"}, "y": {"field": "top", "type": "quantitative"}, "y2": {"field": "bottom"}}},
        {"data": {"values": [{"M": 17.5, "top": 0.81}]}, "mark": {"type": "point", "shape": "M0,0L-0.7,2.6L0.7,2.6Z", "size": 100, "filled": true, "color": "black", "opacity": 1},
         "encoding": {"x": {"field": "M", "type": "quantitative"}, "y": {"field": "top", "type": "quantitative"}}},
        {"data": {"values": [{"M": 17.5, "bottom": -0.61}]}, "mark": {"type": "point", "shape": "M0,0L-0.7,-2.6L0.7,-2.6Z", "size": 100, "filled": true, "color": "black", "opacity": 1},
         "encoding": {"x": {"field": "M", "type": "quantitative"}, "y": {"field": "bottom", "type": "quantitative"}}},
        {"data": {"values": [{"M": 17.5, "cmq": 0.99, "label": "Unstable"}, {"M": 17.5, "cmq": -0.74, "label": "Stable"}]}, "mark": {"type": "text", "fontSize": 22, "fontWeight": "bold", "align": "center", "baseline": "middle", "color": "#111"},
         "encoding": {"x": {"field": "M", "type": "quantitative"}, "y": {"field": "cmq", "type": "quantitative"}, "text": {"field": "label"}}},
        {"data": {"values": [{"M": 0.81, "cmq": 0.77, "label": "C"}]}, "mark": {"type": "text", "angle": 270, "fontSize": 23, "align": "right", "baseline": "middle", "color": "black"},
         "encoding": {"x": {"field": "M", "type": "quantitative"}, "y": {"field": "cmq", "type": "quantitative"}, "text": {"field": "label"}}},
        {"data": {"values": [{"M": 0.81, "cmq": 0.77, "label": "mq"}]}, "mark": {"type": "text", "angle": 270, "fontSize": 14, "align": "left", "baseline": "middle", "color": "black", "dy": 8},
         "encoding": {"x": {"field": "M", "type": "quantitative"}, "y": {"field": "cmq", "type": "quantitative"}, "text": {"field": "label"}}}
      ]
    },
    {
      "width": 346, "height": 271,
      "view": {"stroke": "black", "strokeWidth": 1.2},
      "layer": [
        {"data": {"values": [{}]}, "mark": {"type": "rule", "color": "black", "strokeWidth": 1, "strokeDash": [7, 3, 2, 3]},
         "encoding": {"y": {"datum": 0, "type": "quantitative"}}},
        {"data": {"name": "cmq6"}, "mark": {"type": "point", "filled": true, "opacity": 1, "size": 75, "stroke": "black", "strokeWidth": 0.7},
         "encoding": {
          "x": {"field": "Kn", "type": "quantitative", "scale": {"type": "log", "domain": [0.001, 1000], "nice": false},
                "axis": {"values": [0.001,0.002,0.003,0.004,0.005,0.006,0.007,0.008,0.009,0.01,0.02,0.03,0.04,0.05,0.06,0.07,0.08,0.09,0.1,0.2,0.3,0.4,0.5,0.6,0.7,0.8,0.9,1,2,3,4,5,6,7,8,9,10,20,30,40,50,60,70,80,90,100,200,300,400,500,600,700,800,900,1000], "tickCount": 1000,
                         "labelExpr": "abs(log(datum.value)/LN10 - round(log(datum.value)/LN10)) < 0.001 ? '10' + ['⁻³','⁻²','⁻¹','⁰','¹','²','³'][round(log(datum.value)/LN10) + 3] : ''",
                         "title": "Kn", "titleFontSize": 18, "titleFontWeight": "normal", "titleColor": "black", "titlePadding": 0,
                         "labelColor": "black", "labelFontSize": 15, "labelPadding": 7, "gridWidth": 1,
                         "gridColor": {"condition": {"test": "abs(log(datum.value)/LN10 - round(log(datum.value)/LN10)) < 0.001", "value": "#222"}, "value": "#b4b4b4"},
                         "gridDash": {"condition": {"test": "abs(log(datum.value)/LN10 - round(log(datum.value)/LN10)) < 0.001", "value": [1, 3]}, "value": [1, 2]}}},
          "y": {"field": "cmq", "type": "quantitative", "scale": {"domain": [-1, 2.5], "nice": false, "zero": false},
                "axis": {"values": [-1,-0.9,-0.8,-0.7,-0.6,-0.5,-0.4,-0.3,-0.2,-0.1,0,0.1,0.2,0.3,0.4,0.5,0.6,0.7,0.8,0.9,1,1.1,1.2,1.3,1.4,1.5,1.6,1.7,1.8,1.9,2,2.1,2.2,2.3,2.4,2.5], "tickCount": 1000, "format": "~g",
                         "labelExpr": "abs(datum.value*2 - round(datum.value*2)) < 0.001 ? datum.label : ''", "title": null,
                         "labelColor": "black", "labelFontSize": 15, "labelPadding": 4, "gridWidth": 1,
                         "gridColor": {"condition": {"test": "abs(datum.value*2 - round(datum.value*2)) < 0.001", "value": "#222"}, "value": "#b4b4b4"},
                         "gridDash": {"condition": {"test": "abs(datum.value*2 - round(datum.value*2)) < 0.001", "value": [1, 3]}, "value": [1, 2]}}},
          "color": {"field": "alpha", "type": "nominal",
                    "scale": {"domain": ["αₜ = 0°", "αₜ = 2°", "αₜ = 4°", "αₜ = 6°", "αₜ = 11°", "αₜ = 16°"], "range": ["#ee1111", "#ffa726", "#c6f01e", "#22e022", "#1ea6e8", "#1414f0"]},
                    "legend": {"title": null, "orient": "top-right", "offset": 3, "fillColor": "white", "strokeColor": "black", "padding": 5, "rowPadding": 7, "symbolSize": 90, "symbolStrokeColor": "black", "symbolStrokeWidth": 0.8, "symbolOffset": 4.5, "labelOffset": 6, "labelFontSize": 13, "labelFont": "Liberation Sans", "labelColor": "black", "symbolOpacity": 1}},
          "shape": {"field": "alpha", "type": "nominal",
                    "scale": {"domain": ["αₜ = 0°", "αₜ = 2°", "αₜ = 4°", "αₜ = 6°", "αₜ = 11°", "αₜ = 16°"], "range": ["M-0.75,-0.75H0.75V0.75H-0.75Z", "triangle-right", "triangle-up", "diamond", "triangle-down", "circle"]},
                    "legend": {"title": null, "orient": "top-right", "offset": 3, "fillColor": "white", "strokeColor": "black", "padding": 5, "rowPadding": 7, "symbolSize": 90, "symbolStrokeColor": "black", "symbolStrokeWidth": 0.8, "symbolOffset": 4.5, "labelOffset": 6, "labelFontSize": 13, "labelFont": "Liberation Sans", "labelColor": "black", "symbolOpacity": 1}}
         }},
        {"data": {"values": [{"Kn": 0.85, "top": 0.81, "bottom": -0.61}]}, "mark": {"type": "rule", "color": "black", "strokeWidth": 1.5},
         "encoding": {"x": {"field": "Kn", "type": "quantitative"}, "y": {"field": "top", "type": "quantitative"}, "y2": {"field": "bottom"}}},
        {"data": {"values": [{"Kn": 0.85, "top": 0.81}]}, "mark": {"type": "point", "shape": "M0,0L-0.7,2.6L0.7,2.6Z", "size": 100, "filled": true, "color": "black", "opacity": 1},
         "encoding": {"x": {"field": "Kn", "type": "quantitative"}, "y": {"field": "top", "type": "quantitative"}}},
        {"data": {"values": [{"Kn": 0.85, "bottom": -0.61}]}, "mark": {"type": "point", "shape": "M0,0L-0.7,-2.6L0.7,-2.6Z", "size": 100, "filled": true, "color": "black", "opacity": 1},
         "encoding": {"x": {"field": "Kn", "type": "quantitative"}, "y": {"field": "bottom", "type": "quantitative"}}},
        {"data": {"values": [{"Kn": 0.85, "cmq": 0.99, "label": "Unstable"}, {"Kn": 0.85, "cmq": -0.74, "label": "Stable"}]}, "mark": {"type": "text", "fontSize": 22, "fontWeight": "bold", "align": "center", "baseline": "middle", "color": "#111"},
         "encoding": {"x": {"field": "Kn", "type": "quantitative"}, "y": {"field": "cmq", "type": "quantitative"}, "text": {"field": "label"}}},
        {"data": {"values": [{"Kn": 0.000103, "cmq": 0.77, "label": "C"}]}, "mark": {"type": "text", "angle": 270, "fontSize": 23, "align": "right", "baseline": "middle", "color": "black"},
         "encoding": {"x": {"field": "Kn", "type": "quantitative"}, "y": {"field": "cmq", "type": "quantitative"}, "text": {"field": "label"}}},
        {"data": {"values": [{"Kn": 0.000103, "cmq": 0.77, "label": "mq"}]}, "mark": {"type": "text", "angle": 270, "fontSize": 14, "align": "left", "baseline": "middle", "color": "black", "dy": 8},
         "encoding": {"x": {"field": "Kn", "type": "quantitative"}, "y": {"field": "cmq", "type": "quantitative"}, "text": {"field": "label"}}}
      ]
    }
    ]
  }
  ]
}
]
}
